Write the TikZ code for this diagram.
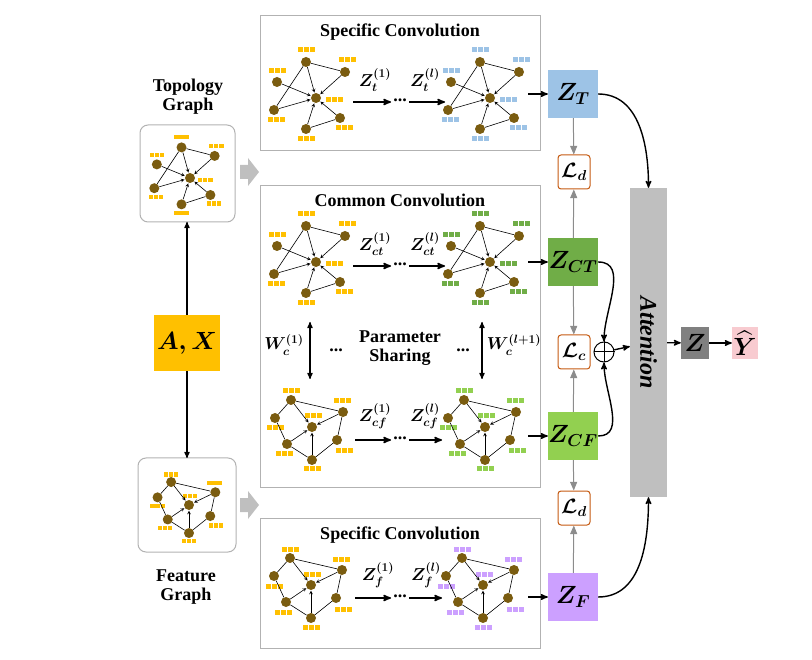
\documentclass[tikz,border=0pt]{standalone}
\usepackage{amsmath,amssymb}
\usepackage{fontspec}
\setmainfont{Liberation Serif}
\usetikzlibrary{arrows,positioning,calc}

\definecolor{nodebrown}{RGB}{122,92,16}
\definecolor{featyellow}{RGB}{255,192,0}
\definecolor{featblue}{RGB}{157,195,230}
\definecolor{featgreen}{RGB}{112,173,71}
\definecolor{featlgreen}{RGB}{146,208,80}
\definecolor{featpurple}{RGB}{204,160,255}
\definecolor{lossorange}{RGB}{197,90,17}
\definecolor{yhatpink}{RGB}{248,203,208}

\tikzset{
  gnode/.style={circle,fill=nodebrown,inner sep=0pt,minimum size=10pt},
  gedge/.style={->,>=stealth,line width=0.6pt,shorten >=0.5pt},
  gline/.style={line width=0.6pt},
  panel/.style={draw=black!30,line width=0.8pt},
  gbox/.style={draw=black!30,line width=1pt,rounded corners=8pt},
  conv/.style={->,>=stealth',line width=1.6pt},
  zbox/.style={minimum width=50pt,minimum height=48pt,inner sep=0pt,font=\fontsize{27}{29}\selectfont},
  lbox/.style={draw=lossorange,line width=1pt,rounded corners=3pt,fill=white,minimum width=32pt,minimum height=34pt,inner sep=0pt,font=\fontsize{22}{24}\selectfont},
  title/.style={font=\fontsize{18}{19}\selectfont\bfseries},
  glabel/.style={font=\fontsize{18}{20}\selectfont},
  gdots/.style={font=\fontsize{18}{20}\selectfont\bfseries,inner sep=0pt},
  link/.style={->,>=stealth',line width=1.4pt},
  lossarrow/.style={->,>=triangle 45,draw=black!45,line width=1pt},
}

% three feature squares
\newcommand{\feat}[3]{\foreach \k in {0,1,2}{\fill[#3] ({#1-8.5+\k*6},{#2-2.5}) rectangle ++(5,5);}}

% topology graph: x, y, scale, colour, prefix
\newcommand{\topog}[5]{%
\begin{scope}[shift={(#1,#2)},scale=#3]
\foreach \n/\p/\q/\u/\v in {c/0/0/18/2, a/-10/-36/0/-12, b/29/-26/2/-12, d/-39/-16/0/-11, e/-42/12/2/10, f/24/20/4/10, g/-10/31/0/10}{
  \node[gnode] (#5\n) at (\p,\q) {};
  \feat{\p+\u}{\q+\v}{#4}
}
\foreach \s in {a,b,d,e,f,g} \draw[gedge] (#5\s) -- (#5c);
\draw[gline] (#5a) -- (#5b) (#5e) -- (#5a) (#5g) -- (#5f);
\end{scope}}

% feature graph: x, y, scale, colour, prefix
\newcommand{\featg}[5]{%
\begin{scope}[shift={(#1,#2)},scale=#3]
\foreach \n/\p/\q/\u/\v in {c/0/0/1/-11, a/-21/-27/0/-9, b/31/-15/-1/-11, d/-37/-9/0/10, e/-25/17/-3/10, f/25/13/7/11, g/0/33/0/9}{
  \node[gnode] (#5\n) at (\p,\q) {};
  \feat{\p+\u}{\q+\v}{#4}
}
\foreach \s in {a,b,e,g} \draw[gedge] (#5\s) -- (#5c);
\draw[gline] (#5a) -- (#5b) (#5a) -- (#5d) (#5d) -- (#5e) (#5e) -- (#5g) (#5g) -- (#5f) (#5f) -- (#5b);
\end{scope}}

\begin{document}
\begin{tikzpicture}[x=1pt,y=-1pt]
\useasboundingbox (0,0) rectangle (812,660);

% panels
\draw[panel] (260,15) rectangle (540,150);
\draw[panel] (260,185) rectangle (540,487);
\draw[panel] (260,518) rectangle (540,648);
\node[title] (tspec) at (400,32) {Specific Convolution};
\node[title] (tcom) at (400,200) {Common Convolution};
\node[title] (tspec2) at (400,535) {Specific Convolution};

% input graphs
\draw[gbox] (140,125) rectangle (235,222);
\draw[gbox] (138,458) rectangle (236,552);
\node[title,align=center] (ttopo) at (188,97) {Topology\\Graph};
\node[title,align=center] (tfeat) at (186,587) {Feature\\Graph};
\topog{190}{178}{0.85}{featyellow}{in}
\featg{189}{505}{0.85}{featyellow}{if}
\node[fill=featyellow,minimum width=58pt,minimum height=56pt,font=\fontsize{27}{29}\selectfont] (AX) at (187,343) {$\boldsymbol{A,X}$};
\coordinate (topobox) at (187,222);
\coordinate (featbox) at (187,458);
\draw[->,>=stealth',line width=1.2pt] (AX) -- (topobox);
\draw[->,>=stealth',line width=1.2pt] (AX) -- (featbox);
\fill[black!25] (240,165) -- (248,165) -- (248,158) -- (259,172) -- (248,186) -- (248,179) -- (240,179) -- cycle;
\fill[black!25] (240,498) -- (248,498) -- (248,491) -- (259,505) -- (248,519) -- (248,512) -- (240,512) -- cycle;

% specific convolution (topology)
\topog{316}{98}{1}{featyellow}{ta}
\topog{490}{98}{1}{featblue}{tb}
\coordinate (t1) at (353,102); \coordinate (t2) at (391,102);
\coordinate (t3) at (409,102); \coordinate (t4) at (445,102);
\draw[conv] (t1) -- (t2); \draw[conv] (t3) -- (t4);
\node[gdots] (tdots) at (400,100) {...};
\node[glabel] (tz1) at (375,80) {$\boldsymbol{Z_t^{(1)}}$};
\node[glabel] (tzl) at (425,80) {$\boldsymbol{Z_t^{(l)}}$};

% common convolution
\topog{316}{262}{1}{featyellow}{ca}
\topog{490}{262}{1}{featgreen}{cb}
\coordinate (c1) at (353,266); \coordinate (c2) at (391,266);
\coordinate (c3) at (409,266); \coordinate (c4) at (445,266);
\draw[conv] (c1) -- (c2); \draw[conv] (c3) -- (c4);
\node[gdots] (cdots) at (400,264) {...};
\node[glabel] (cz1) at (375,244) {$\boldsymbol{Z_{ct}^{(1)}}$};
\node[glabel] (czl) at (425,244) {$\boldsymbol{Z_{ct}^{(l)}}$};

\featg{312}{427}{1}{featyellow}{fa}
\featg{485}{427}{1}{featlgreen}{fb}
\coordinate (f1) at (355,440); \coordinate (f2) at (391,440);
\coordinate (f3) at (409,440); \coordinate (f4) at (442,440);
\draw[conv] (f1) -- (f2); \draw[conv] (f3) -- (f4);
\node[gdots] (fdots) at (400,438) {...};
\node[glabel] (fz1) at (375,416) {$\boldsymbol{Z_{cf}^{(1)}}$};
\node[glabel] (fzl) at (425,416) {$\boldsymbol{Z_{cf}^{(l)}}$};

\coordinate (w1a) at (310,322); \coordinate (w1b) at (310,379);
\coordinate (w2a) at (482,322); \coordinate (w2b) at (482,379);
\draw[<->,>=stealth',line width=1.2pt] (w1a) -- (w1b);
\draw[<->,>=stealth',line width=1.2pt] (w2a) -- (w2b);
\node[glabel,inner sep=1pt] (w1) at (284,345) {$\boldsymbol{W_c^{(1)}}$};
\node[glabel,inner sep=1pt] (wl) at (514,345) {$\boldsymbol{W_c^{(l+1)}}$};
\node[gdots] (wdots1) at (336,350) {...};
\node[gdots] (wdots2) at (463,350) {...};
\node[title,align=center] (share) at (400,348) {Parameter\\Sharing};

% specific convolution (feature)
\featg{311}{585}{1}{featyellow}{sa}
\featg{483}{585}{1}{featpurple}{sb}
\coordinate (s1) at (355,598); \coordinate (s2) at (391,598);
\coordinate (s3) at (409,598); \coordinate (s4) at (442,598);
\draw[conv] (s1) -- (s2); \draw[conv] (s3) -- (s4);
\node[gdots] (sdots) at (400,596) {...};
\node[glabel] (sz1) at (378,575) {$\boldsymbol{Z_f^{(1)}}$};
\node[glabel] (szl) at (426,575) {$\boldsymbol{Z_f^{(l)}}$};

% embeddings and losses
\node[zbox,fill=featblue] (ZT) at (573,94) {$\boldsymbol{Z_T}$};
\node[zbox,fill=featgreen] (ZCT) at (573,262) {$\boldsymbol{Z_{CT}}$};
\node[zbox,fill=featlgreen] (ZCF) at (573,436) {$\boldsymbol{Z_{CF}}$};
\node[zbox,fill=featpurple] (ZF) at (573,597) {$\boldsymbol{Z_F}$};
\node[lbox] (Ld1) at (574,172) {$\boldsymbol{\mathcal{L}_d}$};
\node[lbox] (Lc) at (574,352) {$\boldsymbol{\mathcal{L}_c}$};
\node[lbox] (Ld2) at (574,508) {$\boldsymbol{\mathcal{L}_d}$};
\coordinate (zt0) at (528,94); \coordinate (zct0) at (528,262);
\coordinate (zcf0) at (528,436); \coordinate (zf0) at (528,597);
\draw[link] (zt0) -- (ZT); \draw[link] (zct0) -- (ZCT);
\draw[link] (zcf0) -- (ZCF); \draw[link] (zf0) -- (ZF);
\draw[lossarrow] (ZT) -- (Ld1); \draw[lossarrow] (ZCT) -- (Ld1);
\draw[lossarrow] (ZCT) -- (Lc); \draw[lossarrow] (ZCF) -- (Lc);
\draw[lossarrow] (ZCF) -- (Ld2); \draw[lossarrow] (ZF) -- (Ld2);

% fusion
\node[draw,circle,line width=1pt,minimum size=20pt,inner sep=0pt] (plus) at (604,352) {};
\draw[line width=1pt] (plus.north) -- (plus.south) (plus.west) -- (plus.east);
\node[fill=black!25,minimum width=37pt,minimum height=309pt,inner sep=0pt] (att) at (648.5,342.5) {};
\node[rotate=-90,font=\fontsize{24}{26}\selectfont\bfseries\itshape] (atttext) at (att) {Attention};
\draw[link] (ZT.east) to[out=0,in=90] (att.north);
\draw[link] (ZF.east) to[out=0,in=-90] (att.south);
\draw[link] (ZCT.east) to[out=0,in=90] (plus.north);
\draw[link] (ZCF.east) to[out=0,in=-90] (plus.south);
\draw[link] (plus) -- (att);
\node[fill=black!50,minimum width=28pt,minimum height=32pt,inner sep=0pt,font=\fontsize{27}{29}\selectfont] (Z) at (695,343) {$\boldsymbol{Z}$};
\node[fill=yhatpink,minimum width=26pt,minimum height=32pt,inner sep=0pt,font=\fontsize{27}{29}\selectfont] (Yhat) at (745,343) {$\boldsymbol{\widehat{Y}}$};
\draw[link] (att) -- (Z);
\draw[link] (Z) -- (Yhat);
\end{tikzpicture}
\end{document}
